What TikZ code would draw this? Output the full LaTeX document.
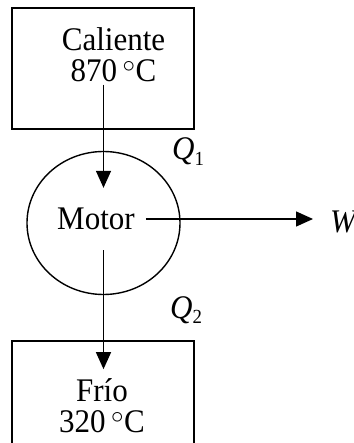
\documentclass[tikz,border=0pt]{standalone}
\usepackage{fontspec}
\setmainfont[FakeStretch=0.94]{Liberation Serif}
\usetikzlibrary{positioning,arrows.meta,shapes.geometric}
\newcommand{\heatlab}[1]{\textit{Q}\raisebox{-0.16em}{\fontsize{20}{20}\selectfont #1}}

\begin{document}
\begin{tikzpicture}[
  x=1pt, y=-1pt,
  font=\fontsize{33}{31}\selectfont,
  reservoir/.style={draw, line width=1.4pt, minimum width=182pt,
                    minimum height=121pt, inner sep=0pt},
  engine/.style={draw, ellipse, line width=1.4pt, minimum width=153pt,
                 minimum height=143pt, inner sep=0pt},
  txt/.style={inner sep=0pt, align=center},
  flow/.style={-{Triangle[length=17pt,width=15pt]}, line width=1.4pt},
]
  \useasboundingbox (0,0) rectangle (353,443);

  \node[reservoir] (hot) at (103,68.5) {};
  \node[reservoir] (cold) at (103,401.5) {};
  \node[engine] (motor) at (103.5,223) {};

  \node[txt] (hottxt) at (113.5,54.3) {Caliente\\870\,$^\circ$C};
  \node[txt] (motortxt) at (96,219) {Motor};
  \node[txt] (coldtxt) at (102,405.5) {Frío\\320\,$^\circ$C};

  \node[txt, anchor=base west] (work) at (330,232) {\textit{W}};
  \node[txt, anchor=base west] (q1) at (172,160) {\heatlab{1}};
  \node[txt, anchor=base west] (q2) at (170,318) {\heatlab{2}};

  \draw[flow, shorten <=3pt, shorten >=20pt]
    (hottxt.south -| motor.center) -- (motortxt.north -| motor.center);
  \draw[flow, shorten <=11pt, shorten >=17pt] (motortxt.east) -- (work.west |- motortxt.east);
  \draw[flow, shorten <=20pt, shorten >=9pt]
    (motortxt.south -| motor.center) -- (coldtxt.north -| motor.center);
\end{tikzpicture}
\end{document}
